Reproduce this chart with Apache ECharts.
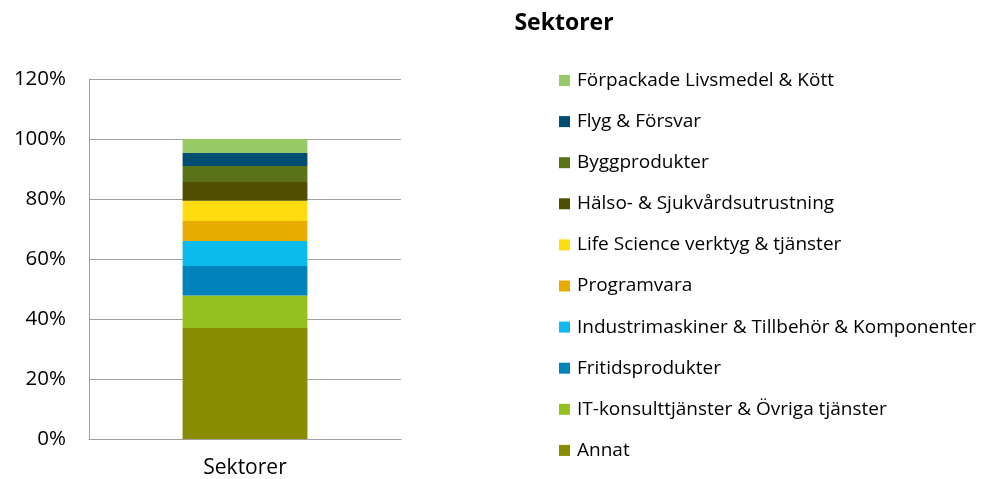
<!DOCTYPE html>
<html><head><meta charset="utf-8">
<script src="https://cdn.jsdelivr.net/npm/echarts@6/dist/echarts.min.js"></script>
<style>html,body{margin:0;padding:0;background:#fff}#c{width:983px;height:479px}</style>
</head><body><div id="c"></div>
<script>
const categories = ['Sektorer'];
const seriesNames = ['Annat','IT-konsulttjänster & Övriga tjänster','Fritidsprodukter','Industrimaskiner & Tillbehör & Komponenter','Programvara','Life Science verktyg & tjänster','Hälso- & Sjukvårdsutrustning','Byggprodukter','Flyg & Försvar','Förpackade Livsmedel & Kött'];
const seriesValues = [37.0, 10.8, 9.9, 8.3, 6.7, 6.7, 6.3, 5.3, 4.3, 4.7];
const colors = ['#8A8C00','#95C11F','#0082BA','#0DBAEE','#E8AC00','#FFDC10','#504F00','#5A7318','#004E72','#97C966'];
const yTicks = [0,20,40,60,80,100,120];

const font = 'Open Sans';
const chart = echarts.init(document.getElementById('c'));
chart.setOption({
  animation:false,
  title:{text:'Sektorer',left:564,textAlign:'center',top:12,padding:0,textStyle:{fontFamily:font,fontSize:23,fontWeight:'bold',color:'#000'}},
  grid:{left:89,right:582,top:79,bottom:40},
  legend:{orient:'vertical',left:559,top:71,padding:0,itemWidth:11,itemHeight:11,itemGap:22.1,icon:'rect',
    data:seriesNames.slice().reverse(),
    textStyle:{fontFamily:font,fontSize:19,color:'#000',lineHeight:19,padding:[0,0,0,2]}},
  xAxis:{type:'category',data:categories,
    axisLine:{lineStyle:{color:'#A0A0A0'}},axisTick:{show:false},
    axisLabel:{fontFamily:font,fontSize:21,color:'#000',margin:19}},
  yAxis:{type:'value',min:0,max:120,interval:20,
    axisLine:{show:true,lineStyle:{color:'#A0A0A0'}},axisTick:{show:false},
    splitLine:{lineStyle:{color:'#A0A0A0'}},
    axisLabel:{fontFamily:font,fontSize:20.5,color:'#000',margin:23,formatter:v=>yTicks.includes(v)?v+'%':''}},
  series:seriesNames.map((n,i)=>({name:n,type:'bar',stack:'s',barWidth:'40%',
    itemStyle:{color:colors[i]},data:[seriesValues[i]]}))
});
</script></body></html>
